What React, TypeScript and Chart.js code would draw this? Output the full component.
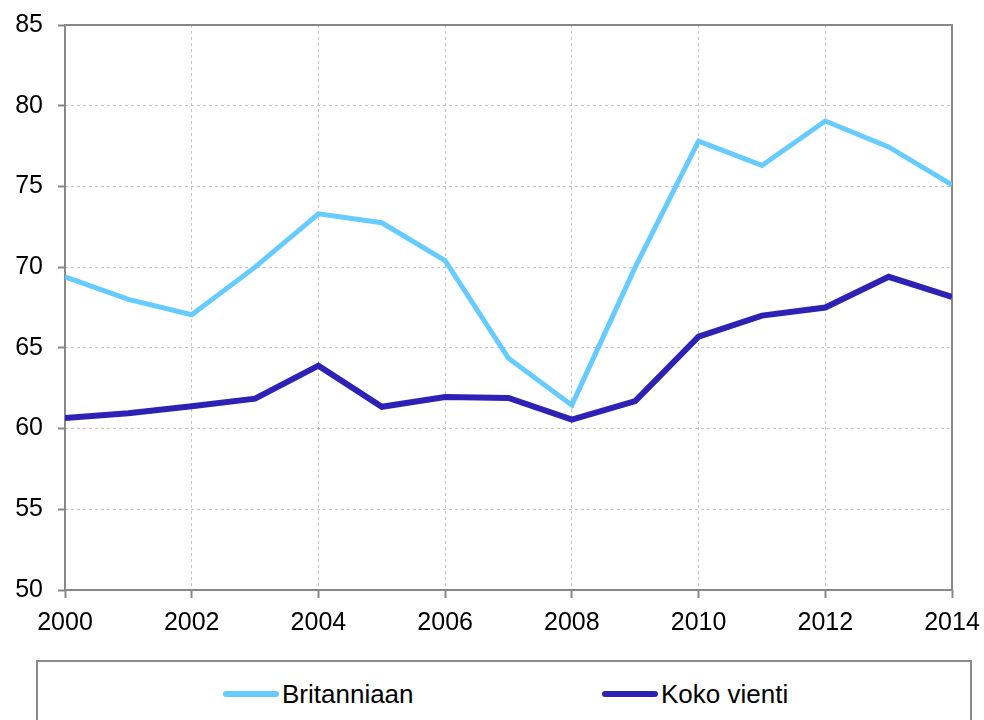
import React, { useEffect, useRef } from "react";
import { Chart, registerables } from "chart.js";

Chart.register(...registerables);

const years = [2000, 2001, 2002, 2003, 2004, 2005, 2006, 2007, 2008, 2009, 2010, 2011, 2012, 2013, 2014];
const britanniaan = [69.4, 68.0, 67.05, 70.0, 73.3, 72.75, 70.4, 64.35, 61.45, 70.0, 77.8, 76.3, 79.05, 77.45, 75.1];
const kokoVienti = [60.65, 60.95, 61.38, 61.85, 63.9, 61.35, 61.95, 61.9, 60.55, 61.7, 65.7, 67.0, 67.5, 69.4, 68.15];
const seriesNames = ["Britanniaan", "Koko vienti"];
const seriesColors = ["#66CCFF", "#2E22B6"];

const FONT = "'Liberation Sans', Arial, sans-serif";

const framePlugin = {
  id: "frame",
  beforeDatasetsDraw(chart: any) {
    const { ctx, chartArea } = chart;
    ctx.save();
    ctx.strokeStyle = "#888888";
    ctx.lineWidth = 2;
    ctx.strokeRect(chartArea.left, chartArea.top, chartArea.right - chartArea.left, chartArea.bottom - chartArea.top);
    ctx.restore();
  },
};

export default function App() {
  const ref = useRef<HTMLCanvasElement | null>(null);

  useEffect(() => {
    if (!ref.current) return;
    const mk = (vals: number[]) => years.map((y, i) => ({ x: y, y: vals[i] }));
    const chart = new Chart(ref.current, {
      type: "line",
      data: {
        datasets: [
          {
            label: seriesNames[0],
            data: mk(britanniaan),
            borderColor: seriesColors[0],
            backgroundColor: seriesColors[0],
            borderWidth: 5,
            pointRadius: 0,
            tension: 0,
          },
          {
            label: seriesNames[1],
            data: mk(kokoVienti),
            borderColor: seriesColors[1],
            backgroundColor: seriesColors[1],
            borderWidth: 6,
            pointRadius: 0,
            tension: 0,
          },
        ],
      },
      options: {
        responsive: false,
        animation: false,
        devicePixelRatio: 1,
        layout: { padding: { top: 25, right: 32, left: 0, bottom: 0 } },
        plugins: {
          legend: { display: false },
          tooltip: { enabled: false },
        },
        scales: {
          x: {
            type: "linear",
            min: 2000,
            max: 2014,
            afterFit: (s: any) => {
              s.height = 60;
              s.paddingLeft = 0;
              s.paddingRight = 0;
            },
            ticks: {
              stepSize: 2,
              callback: (v: any) => String(v),
              color: "#000",
              font: { family: FONT, size: 25 },
              padding: 10,
              maxRotation: 0,
            },
            grid: {
              color: "#c4c4c4",
              lineWidth: 1,
              tickLength: 8,
              tickColor: "#888888",
              tickWidth: 2,
              tickBorderDash: [],
            },
            border: { display: false, dash: [3, 3] },
          },
          y: {
            min: 50,
            max: 85,
            afterFit: (s: any) => {
              s.width = 65;
              s.paddingTop = 0;
              s.paddingBottom = 0;
            },
            ticks: {
              stepSize: 5,
              color: "#000",
              font: { family: FONT, size: 25 },
              padding: 15,
            },
            grid: {
              color: "#c4c4c4",
              lineWidth: 1,
              tickLength: 7,
              tickColor: "#888888",
              tickWidth: 2,
              tickBorderDash: [],
            },
            border: { display: false, dash: [3, 3] },
          },
        },
      },
      plugins: [framePlugin],
    } as any);
    return () => chart.destroy();
  }, []);

  const legendItem = (i: number, left: number) => (
    <div
      style={{
        position: "absolute",
        left,
        top: 17,
        display: "flex",
        alignItems: "center",
        height: 30,
      }}
    >
      <div
        style={{
          width: 56,
          height: 6,
          borderRadius: 3,
          background: seriesColors[i],
          marginRight: 3,
        }}
      />
      <span style={{ fontFamily: FONT, fontSize: 26, color: "#000", lineHeight: "30px" }}>{seriesNames[i]}</span>
    </div>
  );

  return (
    <div style={{ position: "fixed", left: 0, top: 0, width: 984, height: 720, background: "#fff", overflow: "hidden" }}>
      <canvas ref={ref} width={984} height={650} style={{ position: "absolute", left: 0, top: 0, width: 984, height: 650 }} />
      <div
        style={{
          position: "absolute",
          left: 36,
          top: 660,
          width: 936,
          height: 90,
          border: "2px solid #8a8a8a",
          boxSizing: "border-box",
        }}
      >
        {legendItem(0, 185)}
        {legendItem(1, 564)}
      </div>
    </div>
  );
}
